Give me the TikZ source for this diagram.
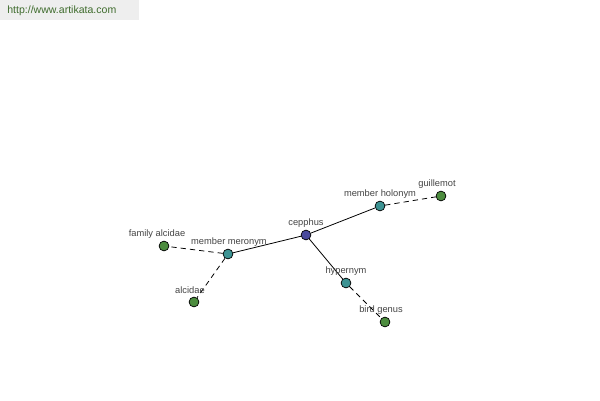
\documentclass[tikz,border=0pt]{standalone}
\usepackage{fontspec}
\setmainfont{Liberation Sans}
\definecolor{hubblue}{HTML}{4A4A9C}
\definecolor{relteal}{HTML}{3C9393}
\definecolor{leafgreen}{HTML}{4C8C3E}
\definecolor{labelgray}{HTML}{444444}
\definecolor{bargray}{HTML}{EEEEEE}
\definecolor{urlgreen}{HTML}{3E6B2C}
\begin{document}
\begin{tikzpicture}[
    x=0.02cm, y=-0.02cm,
    dot/.style={
        circle,
        draw=black,
        line width=0.4pt,
        inner sep=0pt,
        minimum size=5.6pt
    },
    hub/.style={
        dot,
        fill=hubblue
    },
    relation/.style={
        dot,
        fill=relteal
    },
    word/.style={
        dot,
        fill=leafgreen
    },
    tag/.style={
        font=\fontsize{5.3}{6}\selectfont,
        text=labelgray,
        inner sep=0pt
    },
    solidlink/.style={
        line width=0.45pt
    },
    dashlink/.style={
        line width=0.45pt,
        dash pattern=on 3pt off 2.3pt
    }
]

\useasboundingbox (0,0) rectangle (600,400);

% ==================================================
% Site banner
% ==================================================

\fill[bargray] (0,0) rectangle (139,20);

\node[anchor=west, inner sep=0pt, text=urlgreen,
      font=\fontsize{6}{7}\selectfont] (url) at (7,11)
    {http://www.artikata.com};

% ==================================================
% Dots
% ==================================================

\node[hub]      (cepphus)  at (306,235) {};

\node[relation] (meronym)  at (228,254) {};
\node[relation] (holonym)  at (380,206) {};
\node[relation] (hypernym) at (346,283) {};

\node[word]     (family)   at (164,246) {};
\node[word]     (alcidae)  at (194,302) {};
\node[word]     (guille)   at (441,196) {};
\node[word]     (genus)    at (385,322) {};

% ==================================================
% Links
% ==================================================

% cepphus to its relations
\draw[solidlink] (cepphus) -- (meronym);
\draw[solidlink] (cepphus) -- (holonym);
\draw[solidlink] (cepphus) -- (hypernym);

% relations to the words
\draw[dashlink] (meronym)  -- (family);
\draw[dashlink] (meronym)  -- (alcidae);
\draw[dashlink] (holonym)  -- (guille);
\draw[dashlink] (hypernym) -- (genus);

% ==================================================
% Labels
% ==================================================

\node[tag] (cepphus-lbl)  at (306,223) {cepphus};
\node[tag] (meronym-lbl)  at (229,242) {member meronym};
\node[tag] (holonym-lbl)  at (380,194) {member holonym};
\node[tag] (hypernym-lbl) at (346,271) {hypernym};
\node[tag] (family-lbl)   at (157,234) {family alcidae};
\node[tag] (alcidae-lbl)  at (190,290) {alcidae};
\node[tag] (guille-lbl)   at (437,184) {guillemot};
\node[tag] (genus-lbl)    at (381,310) {bird genus};

\end{tikzpicture}
\end{document}
